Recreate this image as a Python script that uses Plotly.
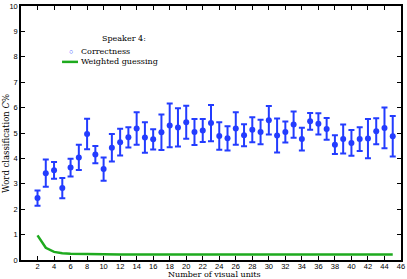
import plotly.graph_objects as go

units = list(range(2, 46))
correctness = [2.44, 3.42, 3.53, 2.83, 3.64, 4.04, 4.96, 4.15, 3.58, 4.42,
               4.64, 4.83, 5.18, 4.82, 4.75, 5.03, 5.30, 5.22, 5.42, 5.04,
               5.10, 5.39, 4.88, 4.79, 5.18, 4.91, 5.13, 5.04, 5.50, 4.90,
               5.04, 5.33, 4.76, 5.46, 5.36, 5.16, 4.54, 4.76, 4.61, 4.76,
               4.78, 5.07, 5.20, 4.87]
errors = [0.30, 0.54, 0.33, 0.40, 0.35, 0.50, 0.60, 0.34, 0.46, 0.54,
          0.53, 0.40, 0.64, 0.60, 0.40, 0.70, 0.86, 0.75, 0.65, 0.51,
          0.45, 0.71, 0.54, 0.48, 0.64, 0.43, 0.49, 0.48, 0.56, 0.67,
          0.41, 0.52, 0.45, 0.33, 0.42, 0.43, 0.37, 0.57, 0.51, 0.47,
          0.77, 0.51, 0.80, 0.80]
guessing = [0.97, 0.48, 0.32, 0.27, 0.25, 0.24, 0.23, 0.23, 0.22, 0.22,
            0.22, 0.22, 0.22, 0.22, 0.22, 0.22, 0.22, 0.22, 0.22, 0.22,
            0.22, 0.22, 0.22, 0.22, 0.22, 0.22, 0.22, 0.22, 0.22, 0.22,
            0.22, 0.22, 0.22, 0.22, 0.22, 0.22, 0.22, 0.22, 0.22, 0.22,
            0.22, 0.22, 0.22, 0.22]
xticks = list(range(2, 47, 2))
yticks = list(range(0, 11))

BLUE = "rgb(35,60,255)"
GREEN = "rgb(30,170,30)"
SERIF = "DejaVu Serif"
SANS = "Liberation Sans"

fig = go.Figure()
fig.add_trace(go.Scatter(
    x=units, y=correctness, mode="markers", name="Correctness",
    marker=dict(color=BLUE, size=6),
    error_y=dict(type="data", array=errors, color=BLUE, thickness=2, width=3),
    showlegend=False,
))
fig.add_trace(go.Scatter(
    x=units, y=guessing, mode="lines", name="Weighted guessing",
    line=dict(color=GREEN, width=2.5), showlegend=False,
))

axis_common = dict(
    showline=True, linecolor="black", linewidth=1.5, mirror="ticks",
    ticks="inside", ticklen=4, tickwidth=1.2, tickcolor="black",
    showgrid=False, zeroline=False, automargin=False,
    ticklabeloverflow="allow",
    tickfont=dict(family=SANS, size=7.5, color="black"),
)
fig.update_xaxes(range=[0, 46], tickvals=xticks, ticklabelstandoff=-2, **axis_common)
fig.update_yaxes(range=[0, 10], tickvals=yticks, **axis_common)

title_font = dict(family=SERIF, size=8, color="black")
legend_font = dict(family=SERIF, size=8, color="black")
# axis titles
fig.add_annotation(text="Number of visual units", xref="paper", yref="paper",
                   x=0.51, y=0, yshift=-9, xanchor="center", yanchor="top",
                   borderpad=0, showarrow=False, font=title_font)
fig.add_annotation(text="Word classification <i>C</i>%", xref="paper", yref="paper",
                   x=-0.04, y=0.46, xanchor="center", yanchor="middle",
                   textangle=-90, showarrow=False,
                   font=dict(family=SERIF, size=8.5, color="black"))

# legend (drawn manually to keep the compact spacing of the reference)
fig.add_annotation(text="Speaker 4:", xref="paper", yref="paper", x=0.27, y=0.874,
                   showarrow=False, xanchor="center", yanchor="middle", font=legend_font)
fig.add_annotation(text="○", xref="paper", yref="paper", x=0.132, y=0.819,
                   showarrow=False, xanchor="center", yanchor="middle",
                   font=dict(family=SANS, size=7, color=BLUE))
fig.add_annotation(text="Correctness", xref="paper", yref="paper", x=0.152, y=0.819,
                   showarrow=False, xanchor="left", yanchor="middle", font=legend_font)
fig.add_shape(type="line", xref="paper", yref="paper", x0=0.108, x1=0.150,
              y0=0.780, y1=0.780, line=dict(color=GREEN, width=2.5))
fig.add_annotation(text="Weighted guessing", xref="paper", yref="paper", x=0.152, y=0.780,
                   showarrow=False, xanchor="left", yanchor="middle", font=legend_font)

fig.update_layout(
    width=407, height=279,
    margin=dict(l=21, r=6, t=6, b=19, autoexpand=False),
    paper_bgcolor="white", plot_bgcolor="white",
    showlegend=False,
)

fig.write_html("out.html", config={"displayModeBar": False},
               post_script="document.body.style.margin='0';document.body.style.overflow='hidden';")
